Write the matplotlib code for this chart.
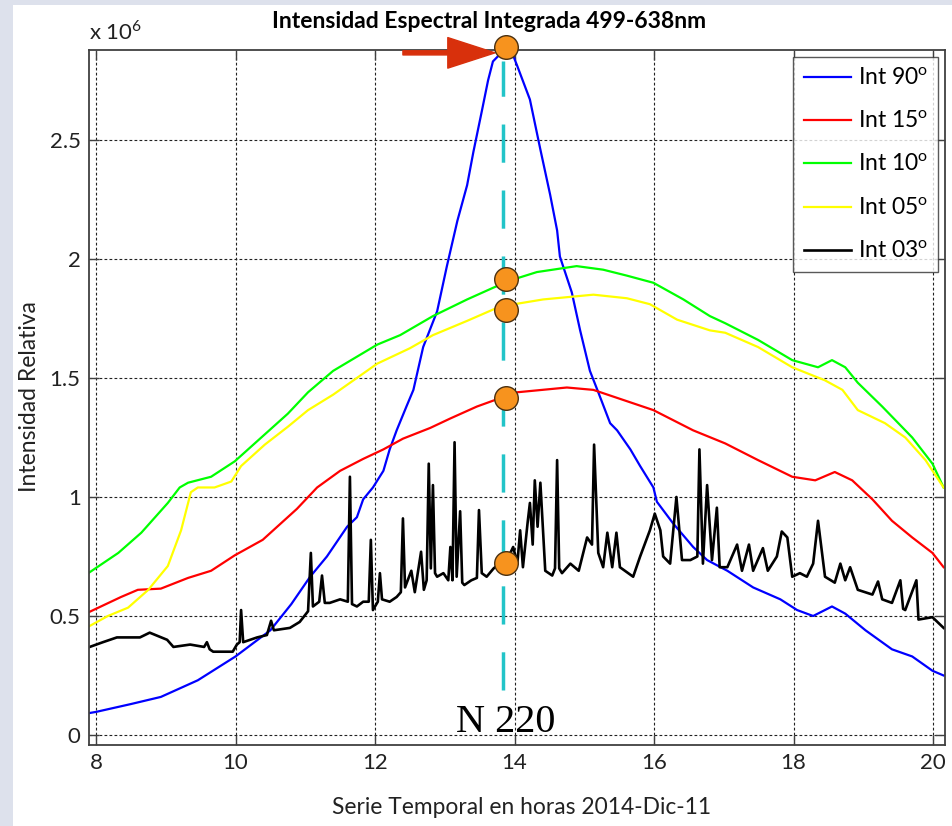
import matplotlib
matplotlib.use("Agg")
import matplotlib.pyplot as plt
from matplotlib.patches import Rectangle, FancyArrowPatch

plt.rcParams["font.family"] = ["Lato", "DejaVu Sans"]
plt.rcParams["mathtext.fontset"] = "custom"
plt.rcParams["mathtext.rm"] = "Lato"

# values in units of 1e6 (as read on the axis)
HOURS_90 = [7.90, 8.0, 8.5, 8.93, 9.46, 10.0, 10.5, 10.8, 11.07, 11.31, 11.60, 11.74, 11.83,
            11.97, 12.12, 12.21, 12.31, 12.45, 12.55, 12.69, 12.89, 13.03, 13.18, 13.32,
            13.41, 13.53, 13.62, 13.69, 13.79, 13.89, 13.96, 14.04, 14.22, 14.37, 14.51,
            14.61, 14.65, 14.82, 14.94, 15.08, 15.20, 15.37, 15.47, 15.66, 15.80, 15.99,
            16.04, 16.27, 16.56, 16.76, 17.05, 17.42, 17.81, 18.05, 18.28, 18.55, 18.74,
            19.03, 19.41, 19.70, 19.99, 20.15]
INT_90 = [0.092, 0.097, 0.13, 0.16, 0.23, 0.33, 0.44, 0.55, 0.665, 0.75, 0.875, 0.915, 0.99,
          1.04, 1.11, 1.20, 1.28, 1.38, 1.45, 1.63, 1.78, 1.97, 2.16, 2.31,
          2.45, 2.62, 2.75, 2.83, 2.86, 2.89, 2.87, 2.81, 2.67, 2.46, 2.27,
          2.12, 2.01, 1.86, 1.70, 1.53, 1.44, 1.31, 1.28, 1.20, 1.13, 1.04,
          0.98, 0.89, 0.79, 0.735, 0.69, 0.62, 0.57, 0.525, 0.50, 0.54, 0.51,
          0.44, 0.36, 0.33, 0.27, 0.25]

HOURS_15 = [7.89, 8.36, 8.60, 8.93, 9.32, 9.65, 9.99, 10.39, 10.88, 11.17, 11.50, 11.83,
            12.12, 12.40, 12.79, 13.08, 13.46, 13.79, 14.04, 14.75, 15.13, 15.99, 16.56,
            17.02, 17.49, 17.98, 18.31, 18.59, 18.84, 19.13, 19.41, 19.70, 19.99, 20.15]
INT_15 = [0.515, 0.58, 0.61, 0.615, 0.66, 0.69, 0.755, 0.82, 0.95, 1.04, 1.11, 1.16,
          1.20, 1.245, 1.29, 1.33, 1.38, 1.415, 1.44, 1.46, 1.45, 1.365, 1.28,
          1.225, 1.155, 1.085, 1.07, 1.105, 1.07, 0.99, 0.90, 0.83, 0.765, 0.705]

HOURS_10 = [7.89, 8.32, 8.65, 9.03, 9.20, 9.32, 9.65, 9.99, 10.37, 10.75, 11.04, 11.40,
            12.03, 12.36, 12.83, 13.32, 13.70, 13.94, 14.32, 14.89, 15.27, 15.61, 15.99,
            16.42, 16.80, 17.02, 17.49, 17.98, 18.35, 18.55, 18.74, 18.92, 19.27, 19.70,
            19.99, 20.15]
INT_10 = [0.68, 0.765, 0.85, 0.975, 1.04, 1.06, 1.085, 1.15, 1.25, 1.35, 1.44, 1.53,
          1.64, 1.68, 1.76, 1.83, 1.88, 1.91, 1.945, 1.97, 1.955, 1.93, 1.90,
          1.83, 1.76, 1.73, 1.66, 1.575, 1.545, 1.575, 1.545, 1.48, 1.38, 1.25,
          1.14, 1.04]

HOURS_05 = [7.89, 8.17, 8.46, 8.75, 9.03, 9.22, 9.36, 9.46, 9.70, 9.94, 10.08, 10.42,
            10.75, 11.04, 11.40, 12.03, 12.50, 12.83, 13.32, 13.79, 14.41, 15.13, 15.61,
            15.94, 16.33, 16.80, 17.02, 17.49, 17.98, 18.45, 18.70, 18.92, 19.31, 19.60,
            19.89, 20.15]
INT_05 = [0.455, 0.50, 0.535, 0.61, 0.71, 0.86, 1.02, 1.04, 1.04, 1.065, 1.13, 1.22,
          1.295, 1.365, 1.43, 1.56, 1.625, 1.68, 1.74, 1.80, 1.83, 1.85, 1.835,
          1.81, 1.745, 1.70, 1.69, 1.63, 1.545, 1.49, 1.45, 1.365, 1.31, 1.25,
          1.155, 1.04]

HOURS_03 = [7.91, 8.10, 8.30, 8.63, 8.77, 9.02, 9.11, 9.35, 9.55, 9.59, 9.63, 9.68, 9.96,
            10.02, 10.06, 10.08, 10.11, 10.31, 10.45, 10.51, 10.55, 10.78, 10.92, 11.04,
            11.08, 11.11, 11.20, 11.24, 11.28, 11.35, 11.50, 11.61, 11.64, 11.67, 11.74,
            11.83, 11.91, 11.94, 11.97, 12.04, 12.07, 12.10, 12.21, 12.31, 12.37, 12.40,
            12.43, 12.52, 12.57, 12.66, 12.70, 12.74, 12.77, 12.80, 12.83, 12.86, 12.89,
            12.98, 13.05, 13.08, 13.11, 13.14, 13.17, 13.22, 13.25, 13.28, 13.38, 13.46,
            13.49, 13.53, 13.60, 13.70, 13.79, 13.90, 13.98, 14.04, 14.08, 14.12, 14.19,
            14.22, 14.26, 14.29, 14.33, 14.37, 14.44, 14.54, 14.58, 14.61, 14.64, 14.68,
            14.80, 14.92, 15.04, 15.11, 15.14, 15.20, 15.27, 15.33, 15.40, 15.46, 15.51,
            15.70, 15.80, 15.94, 16.01, 16.09, 16.13, 16.23, 16.32, 16.40, 16.52, 16.62,
            16.65, 16.70, 16.76, 16.83, 16.90, 16.94, 17.05, 17.19, 17.26, 17.36, 17.42,
            17.56, 17.63, 17.76, 17.83, 17.91, 17.98, 18.09, 18.19, 18.28, 18.35, 18.45,
            18.59, 18.67, 18.74, 18.81, 18.92, 19.13, 19.21, 19.27, 19.41, 19.53, 19.57,
            19.60, 19.76, 19.79, 19.99, 20.15]
INT_03 = [0.37, 0.39, 0.41, 0.41, 0.43, 0.40, 0.37, 0.38, 0.37, 0.39, 0.36, 0.35, 0.35,
          0.38, 0.39, 0.525, 0.39, 0.41, 0.42, 0.48, 0.44, 0.45, 0.475, 0.52,
          0.765, 0.54, 0.56, 0.67, 0.555, 0.555, 0.57, 0.56, 1.085, 0.55, 0.54,
          0.56, 0.56, 0.82, 0.525, 0.56, 0.68, 0.57, 0.56, 0.58, 0.60, 0.91,
          0.62, 0.69, 0.60, 0.77, 0.61, 0.65, 1.14, 0.70, 1.05, 0.68, 0.665,
          0.68, 0.65, 0.79, 0.65, 1.23, 0.665, 0.94, 0.64, 0.63, 0.65, 0.66,
          0.945, 0.68, 0.665, 0.70, 0.72, 0.74, 0.79, 0.72, 0.86, 0.705, 0.90,
          0.975, 0.80, 1.07, 0.875, 1.06, 0.69, 0.67, 0.70, 1.155, 0.70, 0.68,
          0.72, 0.69, 0.83, 0.80, 1.22, 0.765, 0.705, 0.85, 0.705, 0.85, 0.705,
          0.665, 0.75, 0.86, 0.93, 0.86, 0.75, 0.72, 1.00, 0.735, 0.735, 0.75,
          1.20, 0.72, 1.05, 0.735, 0.955, 0.705, 0.705, 0.80, 0.69, 0.80, 0.69,
          0.785, 0.69, 0.75, 0.855, 0.83, 0.665, 0.68, 0.665, 0.72, 0.90, 0.665,
          0.64, 0.72, 0.65, 0.705, 0.61, 0.59, 0.645, 0.57, 0.555, 0.65, 0.53,
          0.525, 0.65, 0.485, 0.495, 0.45]

SERIES = [
    (HOURS_90, INT_90, "#0000FF", "Int 90"),
    (HOURS_15, INT_15, "#FF0000", "Int 15"),
    (HOURS_10, INT_10, "#00FF00", "Int 10"),
    (HOURS_05, INT_05, "#FFFF00", "Int 05"),
    (HOURS_03, INT_03, "#000000", "Int 03"),
]

# marked points at sample N 220
MARK_HOUR = 13.88
MARK_VALUES = [2.89, 1.916, 1.786, 1.416, 0.723]

X_TICKS = [8, 10, 12, 14, 16, 18, 20]
Y_TICKS = [0, 0.5, 1, 1.5, 2, 2.5]
Y_TICK_LABELS = ["0", "0.5", "1", "1.5", "2", "2.5"]

W, H = 953, 826
fig = plt.figure(figsize=(W / 100, H / 100), dpi=100)
fig.patch.set_facecolor("#dde1ec")
fig.add_artist(Rectangle((13 / W, 0), 1 - 13 / W, 1 - 5 / H, transform=fig.transFigure,
                         facecolor="white", edgecolor="none", zorder=-5))

ax = fig.add_axes([89 / W, 1 - 745 / H, 856 / W, 695 / H])

for hours, vals, color, label in SERIES:
    lw = 1.9 if color == "#000000" else 1.6
    ax.plot(hours, vals, color=color, lw=lw, label=label + r"$^{\mathrm{o}}$")

ax.set_xlim(7.9, 20.17)
ax.set_ylim(-0.042, 2.878)
ax.set_xticks(X_TICKS)
ax.set_xticklabels([str(t) for t in X_TICKS])
ax.set_yticks(Y_TICKS)
ax.set_yticklabels(Y_TICK_LABELS)
ax.tick_params(direction="in", length=7, width=1, top=True, right=True,
               labelsize=16, pad=6, colors="#404040", labelcolor="#222222")
for sp in ax.spines.values():
    sp.set_color("#404040")
    sp.set_linewidth(1.3)
ax.grid(True, color="#222222", linestyle=(0, (2.5, 2)), linewidth=0.8)

leg = ax.legend(loc="upper right", bbox_to_anchor=(0.992, 0.990), borderaxespad=0,
                fontsize=16.5, frameon=True, fancybox=False, edgecolor="#303030",
                handlelength=2.05, labelspacing=0.95, handletextpad=0.3,
                borderpad=0.45)
leg.get_frame().set_linewidth(1.0)

# annotation overlay
ax.plot([13.84, 13.84], [0.19, 2.83], color="#22C4C8", lw=2.5,
        linestyle=(0, (11, 8)), zorder=4)
ax.plot([MARK_HOUR] * len(MARK_VALUES), MARK_VALUES, "o", ms=17,
        markerfacecolor="#F7931E", markeredgecolor="#4a3010", markeredgewidth=1,
        clip_on=False, zorder=6)
arrow = FancyArrowPatch((12.36, 2.866), (13.76, 2.866),
                        arrowstyle="simple,head_length=3.4,head_width=2.2,tail_width=0.3",
                        mutation_scale=10, color="#D8300C", clip_on=False, zorder=5)
ax.add_patch(arrow)
ax.text(13.88, 0.013, "N 220", family=["Liberation Serif", "DejaVu Serif"],
        fontsize=29, ha="center", va="baseline", zorder=5)

fig.text(489 / W, 1 - 22 / H, "Intensidad Espectral Integrada 499-638nm",
         ha="center", va="center", fontsize=16.5, fontweight="bold")
fig.text(89 / W, 1 - 32 / H, r"x 10$^{6}$", ha="left", va="center", fontsize=16,
         color="#222222")
fig.text(30 / W, 1 - 397 / H, "Intensidad Relativa", rotation=90, ha="center",
         va="center", fontsize=16.5, color="#222222")
fig.text(522 / W, 1 - 808 / H, "Serie Temporal en horas 2014-Dic-11", ha="center",
         va="center", fontsize=16.4, color="#222222")

fig.savefig("out.png", dpi=100, facecolor=fig.get_facecolor())
